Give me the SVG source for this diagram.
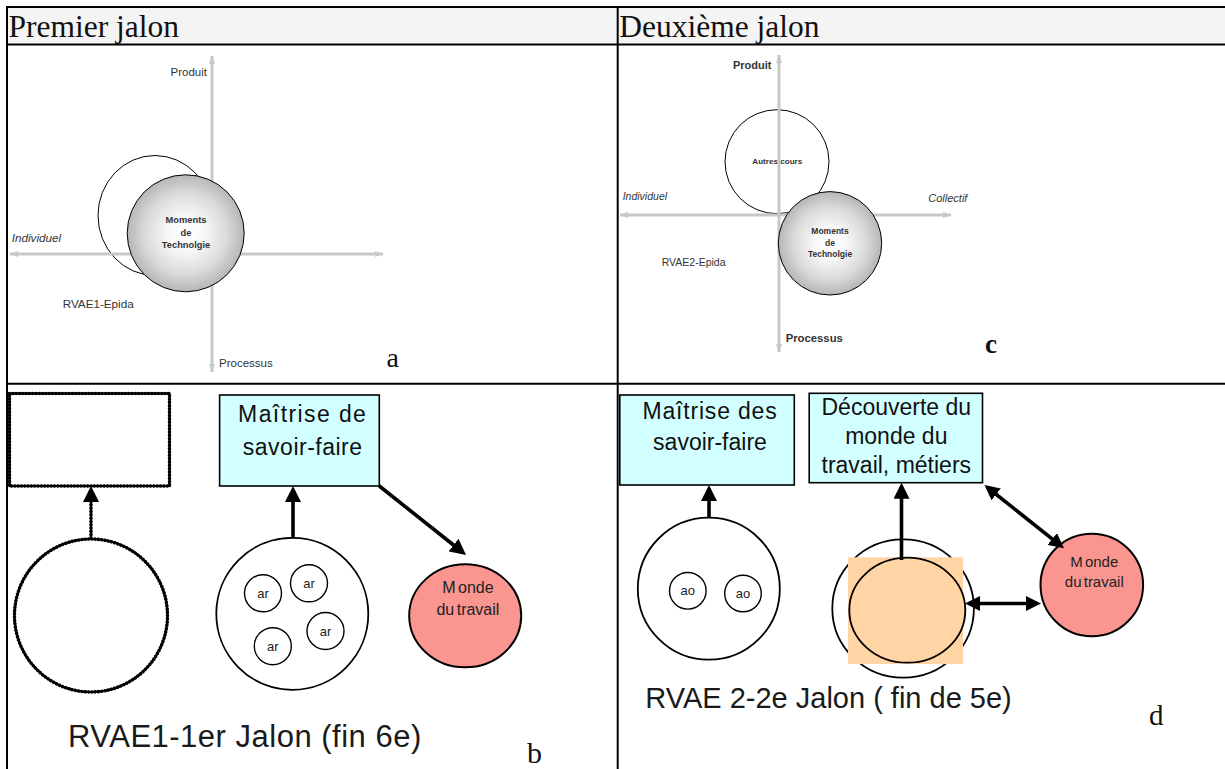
<svg xmlns="http://www.w3.org/2000/svg" width="1225" height="769" viewBox="0 0 1225 769">
<style>
.tbl{stroke:#000;stroke-width:2;fill:none}
.hdr{font-family:"Liberation Serif",serif;font-size:31.5px;fill:#111}
.ltr{font-family:"Liberation Serif",serif;fill:#111}
.ax{stroke:#c8c8c8;stroke-width:3;fill:none}
.lbl{font-family:"Liberation Sans",Arial,sans-serif;fill:#333}
.it{font-style:italic}
.bold{font-weight:bold}
.mid{text-anchor:middle}
.wc{fill:#fff;stroke:#000;stroke-width:1}
.gc{fill:url(#rg);stroke:#000;stroke-width:1}
.box{fill:#d2ffff;stroke:#000;stroke-width:1.6}
.bt{font-family:"Liberation Sans",Arial,sans-serif;font-size:23px;fill:#111;text-anchor:middle}
.oc{fill:#fff;stroke:#000;stroke-width:1.8}
.sc{fill:#fff;stroke:#000;stroke-width:1.4}
.st{font-family:"Liberation Sans",Arial,sans-serif;font-size:13px;fill:#222;text-anchor:middle}
.mc{fill:#fb958f;stroke:#000;stroke-width:2}
.mt{font-family:"Liberation Sans",Arial,sans-serif;fill:#222;text-anchor:middle}
.dotb{fill:none;stroke:#000;stroke-width:2.2}
.dot{fill:none;stroke:#000;stroke-width:3.6;stroke-dasharray:0.01 3.3;stroke-linecap:round}
.arr{fill:none;stroke:#000;stroke-width:3.6}
.big{font-family:"Liberation Sans",Arial,sans-serif;fill:#1a1a1a}
</style>
<defs>
<radialGradient id="rg" cx="0.5" cy="0.5" r="0.5">
<stop offset="0" stop-color="#ffffff"/>
<stop offset="0.3" stop-color="#f8f8f8"/>
<stop offset="0.7" stop-color="#dadada"/>
<stop offset="1" stop-color="#b6b6b6"/>
</radialGradient>
<marker id="ax" viewBox="0 0 8 6" refX="8" refY="3" markerWidth="8" markerHeight="6" markerUnits="userSpaceOnUse" orient="auto-start-reverse">
<path d="M0,0 L8,3 L0,6 z" fill="#c8c8c8"/>
</marker>
<marker id="ah" viewBox="0 0 16 16" refX="12" refY="8" markerWidth="16" markerHeight="16" markerUnits="userSpaceOnUse" orient="auto-start-reverse">
<path d="M0,0 L16,8 L0,16 z" fill="#000"/>
</marker>
<marker id="ah2" viewBox="0 0 15 15" refX="11" refY="7.5" markerWidth="15" markerHeight="15" markerUnits="userSpaceOnUse" orient="auto-start-reverse">
<path d="M0,0 L15,7.5 L0,15 z" fill="#000"/>
</marker>
</defs>

<rect x="0" y="0" width="1225" height="769" fill="#fff"/>

<g id="table">
<rect x="8" y="8" width="1217" height="36" fill="#f4f4f4"/>
<line class="tbl" x1="6" y1="7" x2="1225" y2="7"/>
<line class="tbl" x1="7" y1="44.5" x2="1225" y2="44.5"/>
<line class="tbl" x1="7" y1="383.7" x2="1225" y2="383.7"/>
<line class="tbl" x1="7" y1="6" x2="7" y2="769"/>
<line class="tbl" x1="617.7" y1="6" x2="617.7" y2="769"/>
<text class="hdr" x="8.5" y="37.3">Premier jalon</text>
<text class="hdr" x="619.3" y="37.3">Deuxième jalon</text>
</g>

<!-- Panel a -->
<g id="panel-a">
<g id="a-prev-circle"><ellipse class="wc" cx="155" cy="215.5" rx="57" ry="60"/></g>
<g id="a-axes">
<line class="ax" x1="212" y1="56" x2="212" y2="372" marker-start="url(#ax)" marker-end="url(#ax)"/>
<line class="ax" x1="10" y1="254" x2="383" y2="254" marker-start="url(#ax)" marker-end="url(#ax)"/>
</g>
<g id="a-moments">
<circle class="gc" cx="185.7" cy="233.3" r="58.5"/>
<text class="lbl bold mid" x="186" y="223.3" font-size="9.3" fill="#111">Moments</text>
<text class="lbl bold mid" x="186" y="236" font-size="9.3" fill="#111">de</text>
<text class="lbl bold mid" x="186" y="248.3" font-size="9.3" fill="#111">Technolgie</text>
</g>
<text class="lbl" x="207" y="76" font-size="11.5" text-anchor="end">Produit</text>
<text class="lbl it" x="11.7" y="241.5" font-size="11.7">Individuel</text>
<text class="lbl" x="62.7" y="308" font-size="11.7">RVAE1-Epida</text>
<text class="lbl" x="219" y="366.5" font-size="11.5">Processus</text>
<text class="ltr" x="386.5" y="367" font-size="28">a</text>
</g>

<!-- Panel c -->
<g id="panel-c">
<g id="c-autres">
<circle class="wc" cx="777" cy="161.7" r="52"/>
<text class="lbl bold mid" x="777.3" y="164" font-size="8.1" fill="#111">Autres cours</text>
</g>
<g id="c-axes">
<line class="ax" x1="779" y1="55" x2="779" y2="352" marker-start="url(#ax)" marker-end="url(#ax)"/>
<line class="ax" x1="620" y1="215" x2="951" y2="215" marker-start="url(#ax)" marker-end="url(#ax)"/>
</g>
<g id="c-moments">
<circle class="gc" cx="830" cy="243.3" r="51.7"/>
<text class="lbl bold mid" x="830" y="234.3" font-size="8.5" fill="#111">Moments</text>
<text class="lbl bold mid" x="830" y="245.7" font-size="8.5" fill="#111">de</text>
<text class="lbl bold mid" x="830" y="256.7" font-size="8.5" fill="#111">Technolgie</text>
</g>
<text class="lbl bold" x="733" y="69.3" font-size="11" fill="#000">Produit</text>
<text class="lbl bold" x="785.7" y="341.7" font-size="11.3" fill="#000">Processus</text>
<text class="lbl it" x="622.7" y="200" font-size="10.5" fill="#444">Individuel</text>
<text class="lbl it" x="928.3" y="201.7" font-size="11" fill="#444">Collectif</text>
<text class="lbl" x="661.7" y="265.7" font-size="10.5">RVAE2-Epida</text>
<text class="ltr bold" x="985" y="353.3" font-size="27">c</text>
</g>

<!-- Panel b -->
<g id="b-empty-box">
<rect class="dotb" x="9.5" y="393.5" width="160" height="92.5"/>
<rect class="dot" x="9.5" y="393.5" width="160" height="92.5"/>
</g>
<g id="b-empty-circle">
<circle class="dotb" cx="91" cy="615.5" r="76.5"/>
<circle class="dot" cx="91" cy="615.5" r="76.5"/>
</g>
<g id="b-maitrise">
<rect class="box" x="219.6" y="395" width="159.7" height="91"/>
<text class="bt" x="302.7" y="421.7" letter-spacing="1.4">Maîtrise de</text>
<text class="bt" x="302.7" y="455" letter-spacing="0.5">savoir-faire</text>
</g>
<g id="b-ar-circle">
<circle class="oc" cx="292.3" cy="613.8" r="76"/>
<circle class="sc" cx="263" cy="593.3" r="18.5"/>
<text class="st" x="263" y="598">ar</text>
<circle class="sc" cx="309" cy="583.3" r="18.5"/>
<text class="st" x="309" y="588">ar</text>
<circle class="sc" cx="325.5" cy="631" r="18.5"/>
<text class="st" x="325.5" y="635.7">ar</text>
<circle class="sc" cx="272.8" cy="646.2" r="18.5"/>
<text class="st" x="272.8" y="650.9">ar</text>
</g>
<g id="b-monde">
<ellipse class="mc" cx="465.2" cy="615.8" rx="56" ry="51.5"/>
<text class="mt" x="467.9" y="593.3" font-size="16" word-spacing="-2">M onde</text>
<text class="mt" x="467.9" y="615" font-size="16" word-spacing="-2">du travail</text>
</g>
<text class="big" x="68" y="746.7" font-size="31" letter-spacing="0.5">RVAE1-1er Jalon (fin 6e)</text>
<text class="ltr" x="527" y="763" font-size="30">b</text>

<!-- Panel d -->
<g id="d-maitrise">
<rect class="box" x="619.8" y="395" width="174.5" height="90"/>
<text class="bt" x="710" y="419.3" font-size="22.5" letter-spacing="0.8">Maîtrise des</text>
<text class="bt" x="710" y="450" font-size="22.5">savoir-faire</text>
</g>
<g id="d-decouverte">
<rect class="box" x="809.2" y="393.3" width="173.3" height="89.4"/>
<text class="bt" x="896.3" y="415" font-size="22.5">Découverte du</text>
<text class="bt" x="896.3" y="444" font-size="22.5">monde du</text>
<text class="bt" x="896.3" y="473.3" font-size="22.5">travail, métiers</text>
</g>
<g id="d-ao-circle">
<circle class="oc" cx="708.8" cy="588.7" r="71"/>
<circle class="sc" cx="687.8" cy="590.8" r="18.3"/>
<text class="st" x="687.8" y="595" font-size="12.3">ao</text>
<circle class="sc" cx="743" cy="593.5" r="18.3"/>
<text class="st" x="743" y="597.7" font-size="12.3">ao</text>
</g>
<g id="d-techno">
<ellipse class="oc" cx="903.1" cy="608.5" rx="70.8" ry="69.2"/>
<rect x="848" y="557.3" width="115" height="106.7" fill="#ffd5a6"/>
<ellipse cx="907.3" cy="610.2" rx="58" ry="52.5" fill="#ffd5a6" stroke="#000" stroke-width="1.8"/>
</g>
<g id="d-monde">
<circle class="mc" cx="1091.8" cy="585" r="51.3"/>
<text class="mt" x="1094.3" y="567.3" font-size="15" word-spacing="-2">M onde</text>
<text class="mt" x="1094.3" y="587.3" font-size="15" word-spacing="-2">du travail</text>
</g>
<text class="big" x="645.3" y="708.3" font-size="29">RVAE 2-2e Jalon ( fin de 5e)</text>
<text class="ltr" x="1149" y="725" font-size="29">d</text>

<!-- Connectors -->
<g id="connectors">
<line class="dotb" x1="91" y1="538" x2="91" y2="490"/>
<line class="dot" x1="91" y1="538" x2="91" y2="490" marker-end="url(#ah)"/>
<line class="arr" x1="293" y1="538" x2="293" y2="490" marker-end="url(#ah)"/>
<line class="arr" x1="379.3" y1="486" x2="462.9" y2="552.5" marker-end="url(#ah)"/>
<line class="arr" x1="709" y1="517.5" x2="709" y2="489" marker-end="url(#ah)"/>
<line class="arr" x1="901.5" y1="560" x2="901.5" y2="486.7" marker-end="url(#ah)"/>
<line class="arr" x1="987.6" y1="487.5" x2="1060.9" y2="545.8" marker-start="url(#ah2)" marker-end="url(#ah2)"/>
<line class="arr" x1="969" y1="603.5" x2="1037" y2="603.5" marker-start="url(#ah2)" marker-end="url(#ah2)"/>
</g>
</svg>
